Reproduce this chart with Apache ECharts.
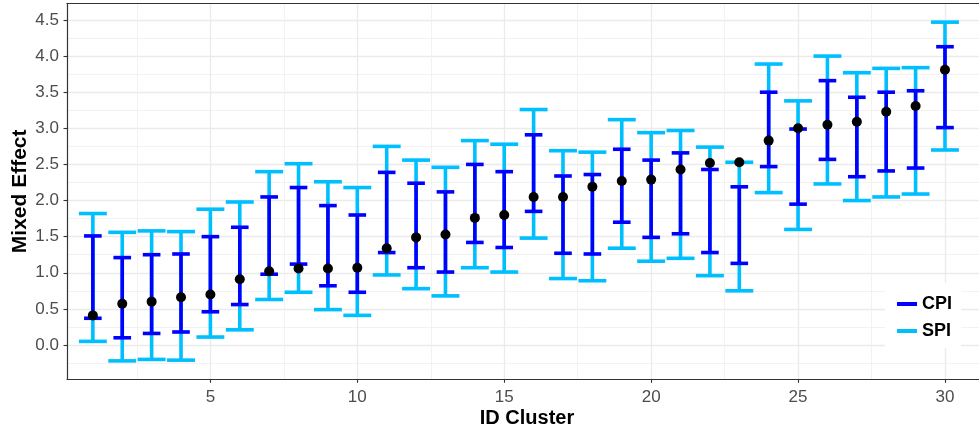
<!DOCTYPE html>
<html>
<head>
<meta charset="utf-8">
<script src="https://cdn.jsdelivr.net/npm/echarts@6/dist/echarts.min.js"></script>
<style>
html,body{margin:0;padding:0;background:#fff;}
#chart{width:979px;height:428px;}
</style>
</head>
<body>
<div id="chart"></div>
<script>
const ids = [1,2,3,4,5,6,7,8,9,10,11,12,13,14,15,16,17,18,19,20,21,22,23,24,25,26,27,28,29,30];
const estimate = [0.41,0.57,0.60,0.66,0.70,0.91,1.02,1.06,1.06,1.07,1.34,1.49,1.53,1.76,1.80,2.05,2.05,2.19,2.27,2.29,2.43,2.52,2.53,2.83,3.00,3.05,3.09,3.23,3.31,3.81];
const cpiLow = [0.37,0.10,0.16,0.18,0.46,0.56,0.98,1.12,0.82,0.73,1.28,1.07,1.01,1.42,1.35,1.85,1.27,1.26,1.70,1.49,1.54,1.28,1.13,2.47,1.95,2.57,2.33,2.41,2.45,3.01];
const cpiHigh = [1.51,1.21,1.25,1.26,1.50,1.63,2.05,2.18,1.93,1.80,2.39,2.24,2.12,2.50,2.40,2.91,2.34,2.36,2.71,2.56,2.66,2.43,2.19,3.50,2.99,3.66,3.43,3.50,3.52,4.13];
const spiLow = [0.05,-0.22,-0.20,-0.21,0.11,0.21,0.63,0.73,0.49,0.41,0.97,0.78,0.68,1.07,1.01,1.48,0.92,0.89,1.34,1.16,1.20,0.96,0.75,2.11,1.60,2.23,2.00,2.05,2.09,2.70];
const spiHigh = [1.82,1.56,1.58,1.57,1.88,1.98,2.40,2.51,2.26,2.18,2.75,2.56,2.46,2.83,2.78,3.26,2.69,2.67,3.12,2.94,2.97,2.74,2.53,3.89,3.38,4.00,3.77,3.83,3.84,4.47];
const yTicks = [0,0.5,1,1.5,2,2.5,3,3.5,4,4.5];
const yMinor = [-0.25,0.25,0.75,1.25,1.75,2.25,2.75,3.25,3.75,4.25];
const xTicks = [5,10,15,20,25,30];
const xMinor = [2.5,7.5,12.5,17.5,22.5,27.5];

const FONT = "'Liberation Sans', Arial, sans-serif";
const chart = echarts.init(document.getElementById('chart'), null, {renderer:'canvas'});

function errorBar(capWidth, lw){
  return function(params, api){
    const x = api.value(0);
    const lo = api.coord([x, api.value(1)]);
    const hi = api.coord([x, api.value(2)]);
    const half = api.size([capWidth, 0])[0] / 2;
    const style = {stroke: api.visual('color'), lineWidth: lw, lineCap: 'butt'};
    return {
      type: 'group',
      children: [
        {type:'line', shape:{x1:lo[0], y1:lo[1], x2:hi[0], y2:hi[1]}, style: style},
        {type:'line', shape:{x1:hi[0]-half, y1:hi[1], x2:hi[0]+half, y2:hi[1]}, style: style},
        {type:'line', shape:{x1:lo[0]-half, y1:lo[1], x2:lo[0]+half, y2:lo[1]}, style: style}
      ]
    };
  };
}

const spiData = ids.map((id,i)=>[id, spiLow[i], spiHigh[i]]);
const cpiData = ids.map((id,i)=>[id, cpiLow[i], cpiHigh[i]]);
const estData = ids.map((id,i)=>[id, estimate[i]]);

const xMin = 0.12, xMax = 31.43, yMin = -0.475, yMax = 4.731;

chart.setOption({
  animation: false,
  backgroundColor: '#ffffff',
  textStyle: {fontFamily: FONT},
  grid: {left: 67, right: -8, top: 3.3, bottom: 48.7, containLabel: false, outerBoundsMode: 'none'},
  legend: {
    data: ['CPI','SPI'],
    orient: 'vertical',
    left: 885, top: 283,
    padding: [12, 9, 8, 12],
    itemGap: 9,
    backgroundColor: '#ffffff',
    icon: 'rect',
    itemWidth: 20, itemHeight: 4,
    textStyle: {fontFamily: FONT, fontSize: 18, fontWeight: 'bold', color: '#000'}
  },
  xAxis: [
    {
      type: 'value', min: xMin, max: xMax, position: 'bottom',
      name: 'ID Cluster', nameLocation: 'middle', nameGap: 29, nameMoveOverlap: false,
      nameTextStyle: {fontFamily: FONT, fontSize: 20, fontWeight: 'bold', color: '#000'},
      axisLine: {show: true, onZero: false, lineStyle: {color: '#333333', width: 1.2}},
      axisTick: {show: true, length: 3.5, customValues: xTicks, lineStyle: {color: '#333333', width: 1.1}},
      axisLabel: {show: true, customValues: xTicks, margin: 10, fontSize: 17, color: '#4d4d4d', fontFamily: FONT},
      splitLine: {show: true, lineStyle: {color: '#ebebeb', width: 1.3}}
    },
    {
      type: 'value', min: xMin, max: xMax, position: 'top',
      axisLine: {show: true, onZero: false, lineStyle: {color: '#333333', width: 1.2}},
      axisTick: {show: false, customValues: xMinor},
      axisLabel: {show: false, customValues: xMinor},
      splitLine: {show: true, lineStyle: {color: '#f0f0f0', width: 0.9}}
    }
  ],
  yAxis: [
    {
      type: 'value', min: yMin, max: yMax, position: 'left',
      name: 'Mixed Effect', nameLocation: 'middle', nameGap: 36, nameRotate: 90, nameMoveOverlap: false,
      nameTextStyle: {fontFamily: FONT, fontSize: 21, fontWeight: 'bold', color: '#000'},
      axisLine: {show: true, onZero: false, lineStyle: {color: '#333333', width: 1.2}},
      axisTick: {show: true, length: 3.5, customValues: yTicks, lineStyle: {color: '#333333', width: 1.1}},
      axisLabel: {show: true, customValues: yTicks, margin: 8, fontSize: 17, color: '#4d4d4d', fontFamily: FONT,
        formatter: v => Number(v).toFixed(1)},
      splitLine: {show: true, lineStyle: {color: '#ebebeb', width: 1.3}}
    },
    {
      type: 'value', min: yMin, max: yMax, position: 'right',
      axisLine: {show: false},
      axisTick: {show: false, customValues: yMinor},
      axisLabel: {show: false, customValues: yMinor},
      splitLine: {show: true, lineStyle: {color: '#f0f0f0', width: 0.9}}
    }
  ],
  series: [
    {
      name: 'SPI', type: 'custom', xAxisIndex: 0, yAxisIndex: 0,
      itemStyle: {color: '#00bfff'},
      renderItem: errorBar(0.95, 3.6),
      encode: {x: 0, y: [1, 2]},
      data: spiData, z: 2
    },
    {
      name: 'CPI', type: 'custom', xAxisIndex: 0, yAxisIndex: 0,
      itemStyle: {color: '#0000ff'},
      renderItem: errorBar(0.6, 3.6),
      encode: {x: 0, y: [1, 2]},
      data: cpiData, z: 3
    },
    {
      name: 'Estimate', type: 'scatter', xAxisIndex: 0, yAxisIndex: 0,
      symbol: 'circle', symbolSize: 10,
      itemStyle: {color: '#000000', opacity: 1},
      data: estData, z: 4
    }
  ]
});
</script>
</body>
</html>
